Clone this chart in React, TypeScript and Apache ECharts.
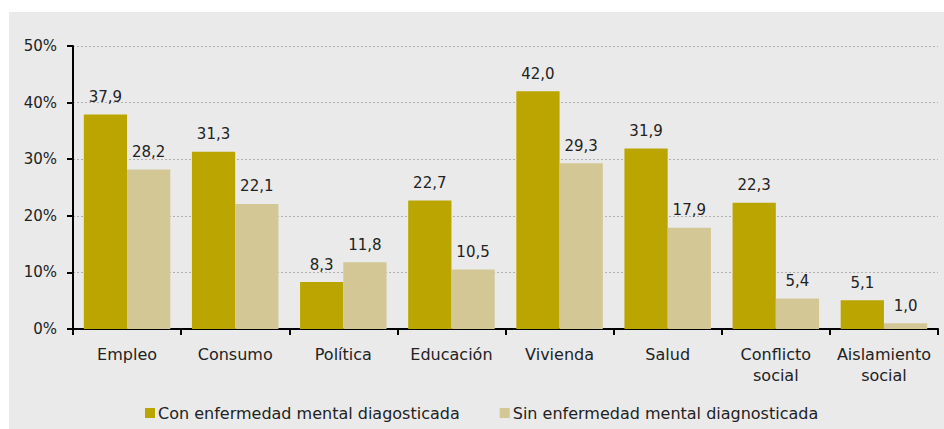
import React, { useEffect, useRef } from "react";
import * as echarts from "echarts";

const categories = [
  "Empleo",
  "Consumo",
  "Política",
  "Educación",
  "Vivienda",
  "Salud",
  "Conflicto\nsocial",
  "Aislamiento\nsocial",
];
const seriesNames = [
  "Con enfermedad mental diagosticada",
  "Sin enfermedad mental diagnosticada",
];
const conValues = [37.9, 31.3, 8.3, 22.7, 42.0, 31.9, 22.3, 5.1];
const sinValues = [28.2, 22.1, 11.8, 10.5, 29.3, 17.9, 5.4, 1.0];
const yTicks = { min: 0, max: 50, interval: 10 };

const FONT = "'DejaVu Sans', sans-serif";
const TEXT = "#222222";

export default function App() {
  const ref = useRef<HTMLDivElement>(null);
  useEffect(() => {
    if (!ref.current) return;
    const chart = echarts.init(ref.current, null, { renderer: "svg" });
    const label = {
      show: true,
      position: "top",
      distance: 10,
      color: TEXT,
      fontSize: 15,
      fontFamily: FONT,
      formatter: (p: any) => Number(p.value).toFixed(1).replace(".", ","),
    };
    chart.setOption({
      animation: false,
      textStyle: { fontFamily: FONT },
      graphic: [
        {
          type: "rect",
          z: -10,
          silent: true,
          shape: { x: 9, y: 12, width: 935, height: 417 },
          style: { fill: "#eaeaea" },
        },
      ],
      grid: { left: 73, right: 6, top: 46, bottom: 100, containLabel: false },
      legend: {
        bottom: 8,
        left: 145,
        padding: 0,
        icon: "rect",
        itemWidth: 10,
        itemHeight: 10,
        itemGap: 40,
        textStyle: { color: TEXT, fontSize: 16, fontFamily: FONT, padding: [0, 0, 0, -2] },
        data: seriesNames,
      },
      xAxis: {
        type: "category",
        data: categories,
        axisLine: { show: true, lineStyle: { color: "#000", width: 2 } },
        axisTick: { show: true, length: 6, alignWithLabel: false, lineStyle: { color: "#000", width: 2 } },
        axisLabel: {
          color: TEXT,
          fontSize: 16,
          fontFamily: FONT,
          margin: 15,
          lineHeight: 21,
          interval: 0,
        },
      },
      yAxis: {
        type: "value",
        min: yTicks.min,
        max: yTicks.max,
        interval: yTicks.interval,
        axisLine: { show: true, lineStyle: { color: "#000", width: 2 } },
        axisTick: { show: true, length: 6, lineStyle: { color: "#000", width: 2 } },
        axisLabel: {
          color: TEXT,
          fontSize: 15,
          fontFamily: FONT,
          margin: 16,
          formatter: "{value}%",
        },
        splitLine: { show: true, lineStyle: { color: "#b0b0b0", type: [2, 2], width: 1 } },
      },
      series: [
        {
          name: seriesNames[0],
          type: "bar",
          data: conValues,
          barGap: "0%",
          barCategoryGap: "20%",
          itemStyle: { color: "#bba500" },
          label,
        },
        {
          name: seriesNames[1],
          type: "bar",
          data: sinValues,
          barGap: "0%",
          barCategoryGap: "20%",
          itemStyle: { color: "#d3c895" },
          label,
        },
      ],
    });
    return () => chart.dispose();
  }, []);
  return (
    <div
      ref={ref}
      style={{ position: "absolute", left: 0, top: 0, width: 944, height: 429, background: "#fff" }}
    />
  );
}
